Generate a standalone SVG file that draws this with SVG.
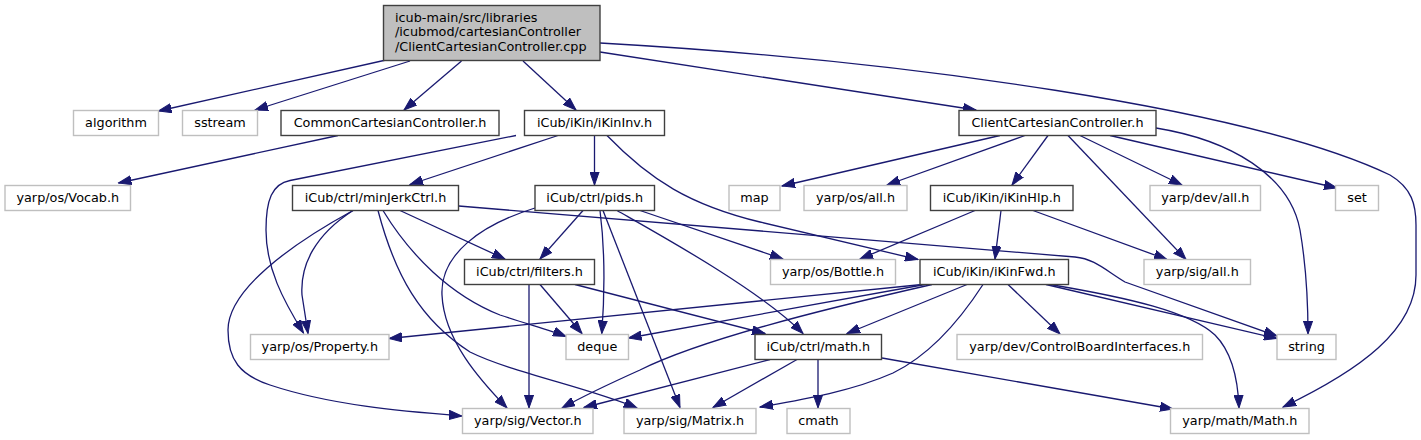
<svg xmlns="http://www.w3.org/2000/svg" width="1421" height="440" viewBox="0 0 1421 440">
<style>
.bg{fill:#ffffff}
.n rect{fill:#ffffff;stroke:#404040;stroke-width:1.4}
.n.g rect{stroke:#bfbfbf}
.n.root rect{fill:#bfbfbf}
.n text{font-family:"DejaVu Sans","Liberation Sans",sans-serif;font-size:12.8px;fill:#000000;text-anchor:middle}
.n.root text{text-anchor:start}
.e path{fill:none;stroke:#191970;stroke-width:1.3;marker-end:url(#ah)}
</style>
<defs>
<marker id="ah" markerUnits="userSpaceOnUse" markerWidth="14" markerHeight="10" refX="13" refY="5" orient="auto" viewBox="0 0 14 10">
<path d="M0,0.4 L13,5 L0,9.6 z" fill="#191970" stroke="#191970" stroke-width="1"/>
</marker>
</defs>
<rect class="bg" x="0" y="0" width="1421" height="440"/>
<g id="edges" class="e">
<path d="M386,60 L158.5,111"/>
<path d="M410,61 L255,110"/>
<path d="M461.5,61 L404,110"/>
<path d="M523,61 L576,110"/>
<path d="M600,52 L976,110"/>
<path d="M600,43 C900,60 1250,108 1390,175 C1412,188 1416,205 1416,225 L1416,275 C1416,330 1360,370 1283,407"/>
<path d="M338,135.5 L118.5,183"/>
<path d="M558,135.5 L410,184.5"/>
<path d="M594.5,135.5 L594.5,185"/>
<path d="M516,135.5 L290,180.5 C272,184 266,200 266,230 C266,268 283,300 303.5,333"/>
<path d="M607,135.5 C650,180 690,205 760,222 L918,259.5"/>
<path d="M353,210.5 C315,235 300,265 302,295 L308,333.5"/>
<path d="M353,210.5 C290,245 228,290 228,330 C228,360 240,375 270,385 C330,405 400,411 462,416"/>
<path d="M378,210.5 C395,275 420,320 470,352 C510,372 590,388 637,408"/>
<path d="M383,210.5 C410,255 450,295 500,315 C530,325 550,330 566,336.5"/>
<path d="M400,210.5 L505,259"/>
<path d="M458.7,206 L1075,257 C1095,259 1105,270 1125,282 L1277,336"/>
<path d="M583,210.5 L540,259"/>
<path d="M600,210.5 C605,250 605,290 601.8,333.5"/>
<path d="M535,208 C480,225 440,255 442,295 C444,340 480,380 507,408"/>
<path d="M603,210.5 L680,407.5"/>
<path d="M617,210.5 C660,235 760,290 803,333.5"/>
<path d="M640,210.5 L783,259"/>
<path d="M529,284.5 L529,408"/>
<path d="M540,284.5 L582,333.5"/>
<path d="M575,284.5 L765,333.5"/>
<path d="M975,210.5 L860,259"/>
<path d="M1001,210.5 L995,259"/>
<path d="M1033,210.5 L1167,259.5"/>
<path d="M1000,135.5 L782,186"/>
<path d="M1025,135.5 L887,185"/>
<path d="M1048,135.5 L1012,185"/>
<path d="M1068,135.5 L1186,259.5"/>
<path d="M1080,135.5 L1182,185"/>
<path d="M1110,135.5 L1337,188"/>
<path d="M1156,128 C1230,140 1290,175 1300,230 C1306,265 1308,300 1308,334"/>
<path d="M922,284.5 L389,338.5"/>
<path d="M925,284.5 L628.5,338"/>
<path d="M932,284.5 C820,310 700,340 640,370 C600,388 580,398 562,408"/>
<path d="M967,284.5 L847,333.5"/>
<path d="M983,284.5 C960,320 930,355 893,373 C850,392 800,400 760,407"/>
<path d="M1008,284.5 L1060,334"/>
<path d="M1046,284.5 L1277,338.5"/>
<path d="M1050,284.5 C1130,298 1190,312 1215,335 C1232,352 1238,380 1239,408"/>
<path d="M770,359.5 L584,407.5"/>
<path d="M797,359.5 L713,407.5"/>
<path d="M818,359.5 L818,408"/>
<path d="M882,358 L1173,409"/>
</g>
<g id="root" class="n root"><rect x="383.5" y="5.5" width="216.5" height="55"/><text x="395" y="21.5">icub-main/src/libraries</text><text x="395" y="36.3">/icubmod/cartesianController</text><text x="395" y="51">/ClientCartesianController.cpp</text></g>
<g id="n_algorithm" class="n g"><rect x="73.5" y="110.5" width="85" height="25"/><text x="116" y="127">algorithm</text></g>
<g id="n_sstream" class="n g"><rect x="182.5" y="110.5" width="75" height="25"/><text x="220" y="127">sstream</text></g>
<g id="n_common" class="n"><rect x="281" y="110.5" width="218" height="25"/><text x="390" y="127">CommonCartesianController.h</text></g>
<g id="n_ikininv" class="n"><rect x="524.5" y="110.5" width="140" height="25"/><text x="594.5" y="127">iCub/iKin/iKinInv.h</text></g>
<g id="n_clientcc" class="n"><rect x="959" y="110.5" width="197" height="25"/><text x="1057.5" y="127">ClientCartesianController.h</text></g>
<g id="n_vocab" class="n g"><rect x="5" y="185.5" width="125.5" height="25"/><text x="67.8" y="202">yarp/os/Vocab.h</text></g>
<g id="n_minjerk" class="n"><rect x="292.5" y="185.5" width="166" height="25"/><text x="375.5" y="202">iCub/ctrl/minJerkCtrl.h</text></g>
<g id="n_pids" class="n"><rect x="535" y="185.5" width="119.5" height="25"/><text x="594.8" y="202">iCub/ctrl/pids.h</text></g>
<g id="n_map" class="n g"><rect x="729" y="185.5" width="51" height="25"/><text x="754.5" y="202">map</text></g>
<g id="n_osall" class="n g"><rect x="804" y="185.5" width="103" height="25"/><text x="855.5" y="202">yarp/os/all.h</text></g>
<g id="n_ikinhlp" class="n"><rect x="930.5" y="185.5" width="142.5" height="25"/><text x="1001.8" y="202">iCub/iKin/iKinHlp.h</text></g>
<g id="n_devall" class="n g"><rect x="1150" y="185.5" width="110.5" height="25"/><text x="1205.3" y="202">yarp/dev/all.h</text></g>
<g id="n_set" class="n g"><rect x="1335.5" y="185.5" width="43" height="25"/><text x="1357" y="202">set</text></g>
<g id="n_filters" class="n"><rect x="464.5" y="259.5" width="130" height="25"/><text x="529.5" y="276">iCub/ctrl/filters.h</text></g>
<g id="n_bottle" class="n g"><rect x="770.5" y="259.5" width="125" height="25"/><text x="833" y="276">yarp/os/Bottle.h</text></g>
<g id="n_ikinfwd" class="n"><rect x="920" y="259.5" width="148.5" height="25"/><text x="994.3" y="276">iCub/iKin/iKinFwd.h</text></g>
<g id="n_sigall" class="n g"><rect x="1144" y="259.5" width="106.5" height="25"/><text x="1197.3" y="276">yarp/sig/all.h</text></g>
<g id="n_property" class="n g"><rect x="250.5" y="334.5" width="138.5" height="25"/><text x="319.8" y="351">yarp/os/Property.h</text></g>
<g id="n_deque" class="n g"><rect x="566" y="334.5" width="62.5" height="25"/><text x="597.3" y="351">deque</text></g>
<g id="n_math" class="n"><rect x="755" y="334.5" width="126.5" height="25"/><text x="818.3" y="351">iCub/ctrl/math.h</text></g>
<g id="n_cbi" class="n g"><rect x="957" y="334.5" width="245.5" height="25"/><text x="1079.8" y="351">yarp/dev/ControlBoardInterfaces.h</text></g>
<g id="n_string" class="n g"><rect x="1277" y="334.5" width="59" height="25"/><text x="1306.5" y="351">string</text></g>
<g id="n_vector" class="n g"><rect x="462.5" y="408.5" width="130.5" height="25"/><text x="527.8" y="425">yarp/sig/Vector.h</text></g>
<g id="n_matrix" class="n g"><rect x="624" y="408.5" width="132" height="25"/><text x="690" y="425">yarp/sig/Matrix.h</text></g>
<g id="n_cmath" class="n g"><rect x="787" y="408.5" width="63" height="25"/><text x="818.5" y="425">cmath</text></g>
<g id="n_mathh" class="n g"><rect x="1170.5" y="408.5" width="138.5" height="25"/><text x="1239.8" y="425">yarp/math/Math.h</text></g>
</svg>
